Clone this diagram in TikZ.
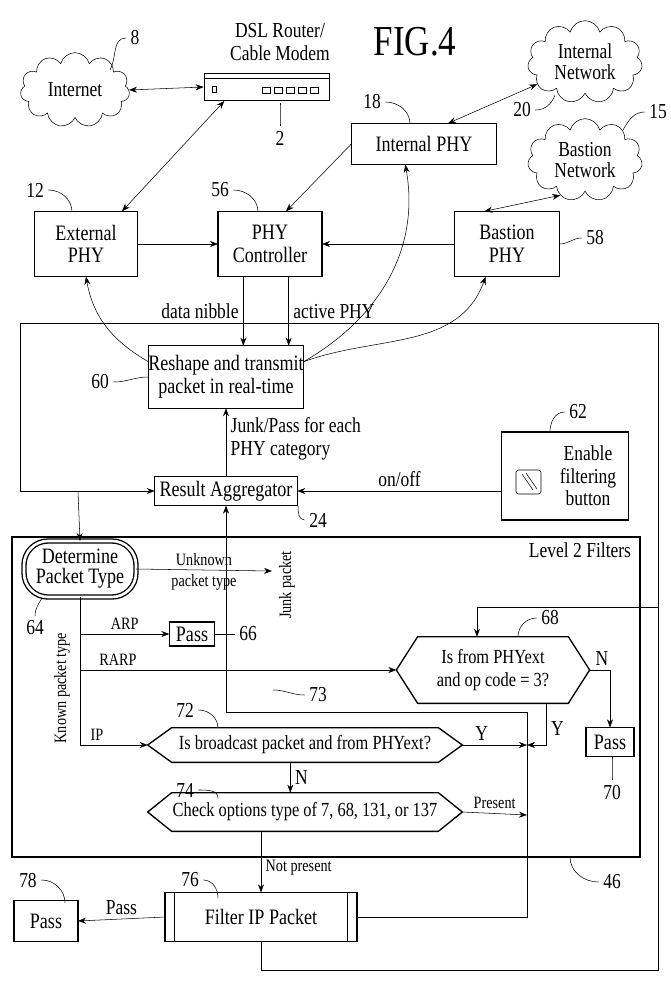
\documentclass[tikz,border=0pt]{standalone}
\usepackage{fontspec}
\setmainfont{Liberation Serif}[FakeStretch=0.82]
\usetikzlibrary{positioning, shapes.symbols, arrows.meta, calc}
\tikzset{B/.style={draw, line width=1pt, inner sep=0pt, outer sep=0pt, align=center, font=\fontsize{16.5}{17}\selectfont}}
\tikzset{H/.style={inner sep=0pt, outer sep=0pt, align=center, font=\fontsize{15}{17}\selectfont}}
\tikzset{C/.style={cloud, draw, cloud puffs=11, aspect=1.4, inner sep=0pt, align=center, font=\fontsize{16}{16}\selectfont}}
\tikzset{E/.style={draw,-{Stealth[length=6pt]}}}
\tikzset{EE/.style={draw,{Stealth[length=6pt]}-{Stealth[length=6pt]}}}
\tikzset{L/.style={font=\fontsize{16}{17}\selectfont}}
\tikzset{T/.style={font=\fontsize{13}{14}\selectfont}}
\newcommand{\hexa}[2]{\draw[line width=1pt] (#1.west) -- ([xshift=#2]#1.north west) -- ([xshift=-#2]#1.north east) -- (#1.east) -- ([xshift=-#2]#1.south east) -- ([xshift=#2]#1.south west) -- cycle;}
\begin{document}
\begin{tikzpicture}[x=0.75pt, y=-0.75pt]
\useasboundingbox (0,0) rectangle (671,997);
%% Network side
\node[font=\fontsize{32}{32}\selectfont] (fig) at (415,42) {FIG.4};
\node[C, minimum width=82pt, minimum height=56pt] (inet) at (75,90) {Internet};
\node[C, minimum width=86pt, minimum height=62pt] (inw) at (585,62) {Internal\\Network};
\node[C, minimum width=86pt, minimum height=62pt] (bnw) at (585,160) {Bastion\\Network};
\node[draw, line width=1pt, minimum width=94pt, minimum height=20pt, inner sep=0pt] (rtr) at (267,87) {};
\draw ([yshift=-4pt]rtr.north west) -- ([yshift=-4pt]rtr.north east);
\foreach \i in {0,...,4} \draw (262+\i*12,87) rectangle ++(8,6);
\draw (212,86) rectangle ++(4,6);
\node[L, align=center] (rtrt) at (280,42) {DSL Router/\\Cable Modem};
%% PHY boxes
\node[B, minimum width=109pt, minimum height=31pt] (iphy) at (424,144) {Internal PHY};
\node[B, minimum width=77pt, minimum height=49pt] (ephy) at (86,244) {External\\PHY};
\node[B, minimum width=78pt, minimum height=49pt] (ctrl) at (270,244) {PHY\\Controller};
\node[B, minimum width=79pt, minimum height=49pt] (bphy) at (507,244) {Bastion\\PHY};
\node[B, minimum width=107pt, minimum height=47pt] (resh) at (226,377) {Reshape and transmit\\packet in real-time};
\node[B, minimum width=107pt, minimum height=22pt] (aggr) at (226,491) {Result Aggregator};
\node[B, minimum width=95pt, minimum height=66pt] (enab) at (565,476) {};
\node[L, align=center] (enabt) at (588,476) {Enable\\filtering\\button};
\draw[rounded corners=2pt] (516,470) rectangle (541,494);
\draw (522,474) -- (533,490) (526,473) -- (537,489);
%% Level 2 filters
\draw[line width=1pt] (12,537) rectangle (640,857);
\node[L] (lvl) at (580,550) {Level 2 Filters};
\node[B, double, double distance=2pt, rounded corners=18pt, minimum width=84pt, minimum height=42pt] (det) at (80,569) {Determine\\[-2pt]Packet Type};
\node[B, minimum width=34pt, minimum height=18pt] (pass66) at (192,634) {Pass};
\node[H, minimum width=145pt, minimum height=50pt] (hx68) at (493,670) {Is from PHYext\\and op code = 3?};
\hexa{hx68}{16pt}
\node[B, minimum width=36pt, minimum height=22pt] (pass70) at (610,742) {Pass};
\node[H, minimum width=236pt, minimum height=26pt] (hx72) at (305,745) {Is broadcast packet and from PHYext?};
\hexa{hx72}{18pt}
\node[H, minimum width=236pt, minimum height=29pt] (hx74) at (305,812) {Check options type of 7, 68, 131, or 137};
\hexa{hx74}{18pt}
\node[B, minimum width=144pt, minimum height=37pt] (filt) at (261,917) {Filter IP Packet};
\draw[line width=1pt] ([xshift=7pt]filt.north west) -- ([xshift=7pt]filt.south west) ([xshift=-7pt]filt.north east) -- ([xshift=-7pt]filt.south east);
\node[B, minimum width=48pt, minimum height=31pt] (pass78) at (46,921) {Pass};
%% Coordinates for connectors
\coordinate (top) at (658,323);
\coordinate (mrg) at (527,745);
\coordinate (mrg2) at (527,815);
%% Top edges
\draw[EE] (inet.east) -- (rtr.west);
\draw[EE] ([xshift=-32pt]rtr.south) -- ([xshift=27pt]ephy.north);
\draw[EE] (inw.205) -- ([xshift=18pt]iphy.north);
\draw[E] (iphy.west) -- ([xshift=12pt]ctrl.north);
\draw[EE] (bnw.235) -- ([xshift=-17pt]bphy.north);
\draw[E] (ephy.east) -- (ctrl.west);
\draw[E] (bphy.west) -- (ctrl.east);
\draw[E] ([xshift=-20pt]ctrl.south) -- node[L, left] {data nibble} ([xshift=-20pt]ctrl.south |- resh.north);
\draw[E] ([xshift=14pt]ctrl.south) -- node[L, right] {active PHY} ([xshift=14pt]ctrl.south |- resh.north);
\draw[E] ([yshift=-12pt]resh.north west) to[out=150, in=-80] (ephy.south);
\draw[E] ([yshift=-12pt]resh.north east) to[out=30, in=-80] ([xshift=-14pt]iphy.south);
\draw[E] ([yshift=-12pt]resh.north east) to[out=20, in=-110] ([xshift=-16pt]bphy.south);
\draw[E] (aggr.north) -- node[L, right, align=left, pos=0.55] {Junk/Pass for each\\PHY category} (resh.south);
\draw[E] (enab.west |- aggr.east) -- node[L, above] {on/off} (aggr.east);
%% Outer loop
\draw (20,491) |- (top) -- (658,970) -| (filt.south);
\draw[E] (20,491) -- (aggr.west);
\draw[E] (78,491) -- (det.north);
\draw[E] (658,607) -| ([xshift=-12pt]hx68.north);
%% Filter edges
\draw[E] (det.east) -- node[T, above, align=center] {Unknown} node[T, below] {packet type} (272,571);
\draw (det.south) |- (80,745);
\draw[E] (80,634) -- node[T, above] {ARP} (pass66.west);
\draw[E] (80,670) -- node[T, above, pos=0.12] {RARP} (hx68.west);
\draw[E] (80,745) -- node[T, above, pos=0.25] {IP} (hx72.west);
\node[T, rotate=90] (kpt) at (62,688) {Known packet type};
\draw[E] (filt.east) -| (527,712) -| (aggr.south);
\node[T, rotate=90] (jpk) at (287,585) {Junk packet};
\draw[E] (hx68.east) -| node[L, above, pos=0.3] {N} (pass70.north);
\draw[E] ([xshift=40pt]hx68.south) |- node[L, right, pos=0.3] {Y} (mrg);
\draw[E] (hx72.east) -- node[L, above, pos=0.3] {Y} (mrg);
\draw[E] ([xshift=-11pt]hx72.south) -- node[L, right] {N} ([xshift=-11pt]hx74.north);
\draw[E] (hx74.east) -- node[T, above] {Present} (mrg2);
\draw[E] (hx74.south -| filt.north) -- node[T, right, pos=0.6] {Not present} (filt.north);
\draw[E] (filt.west) -- node[L, above] {Pass} (pass78.east);
%% Reference numerals
\node[L] (n8) at (135,38) {8};
\draw (n8.west) to[out=180, in=60] (110,70);
\node[L] (n2) at (280,138) {2};
\draw (n2.north) to[out=90, in=-90] (280,103);
\node[L] (n18) at (372,102) {18};
\draw (n18.east) to[out=0, in=90] (410,124);
\node[L] (n20) at (522,110) {20};
\draw (n20.east) to[out=0, in=-110] (555,95);
\node[L] (n15) at (658,112) {15};
\draw (n15.west) to[out=180, in=60] (623,130);
\node[L] (n12) at (35,190) {12};
\draw (n12.east) to[out=0, in=90] (72,212);
\node[L] (n56) at (220,190) {56};
\draw (n56.east) to[out=0, in=90] (258,212);
\node[L] (n58) at (595,238) {58};
\draw (n58.west) to[out=180, in=0] (bphy.east);
\node[L] (n60) at (100,382) {60};
\draw (n60.east) to[out=0, in=180] (resh.west);
\node[L] (n62) at (578,412) {62};
\draw (n62.west) to[out=180, in=90] (550,432);
\node[L] (n24) at (318,520) {24};
\draw (n24.west) to[out=180, in=-90] (298,506);
\node[L] (n64) at (35,628) {64};
\draw (n64.north) to[out=90, in=-120] (42,598);
\node[L] (n66) at (248,634) {66};
\draw (n66.west) to[out=180, in=0] (pass66.east);
\node[L] (n68) at (550,618) {68};
\draw (n68.west) to[out=180, in=90] (518,637);
\node[L] (n73) at (318,695) {73};
\draw (n73.west) to[out=180, in=0] (273,690);
\node[L] (n72) at (185,710) {72};
\draw (n72.east) to[out=0, in=90] (218,728);
\node[L] (n70) at (612,792) {70};
\draw (n70.north) to[out=90, in=-90] (612,757);
\node[L] (n74) at (185,790) {74};
\draw (n74.east) to[out=0, in=90] (218,798);
\node[L] (n46) at (612,882) {46};
\draw (n46.west) to[out=180, in=-90] (570,857);
\node[L] (n76) at (190,880) {76};
\draw (n76.east) to[out=0, in=90] (218,898);
\node[L] (n78) at (28,880) {78};
\draw (n78.east) to[out=0, in=90] (65,903);
\end{tikzpicture}
\end{document}
